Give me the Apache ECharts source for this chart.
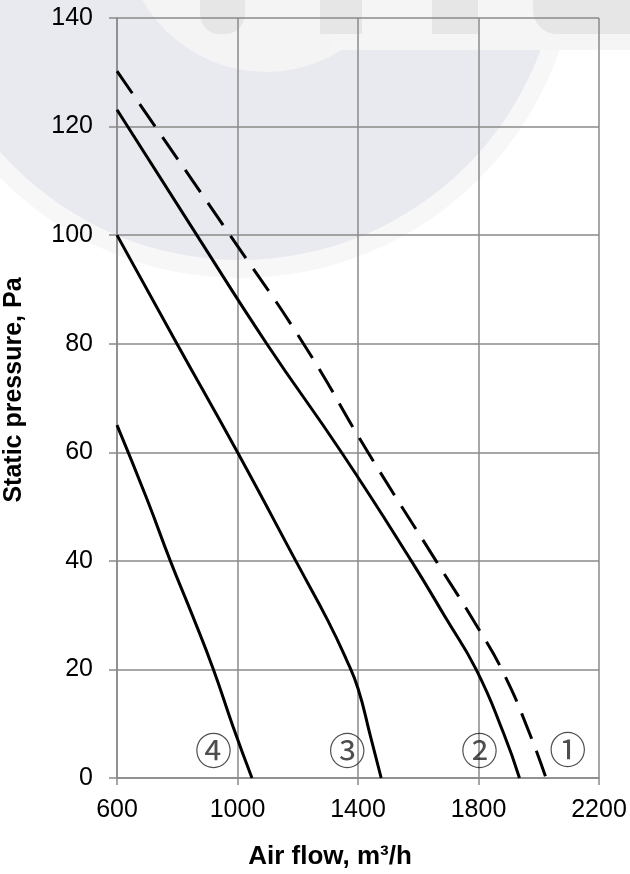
<!DOCTYPE html>
<html>
<head>
<meta charset="utf-8">
<script src="https://cdn.jsdelivr.net/npm/echarts@6/dist/echarts.min.js"></script>
<style>
  html, body { margin: 0; padding: 0; background: #fff; }
  #chart { width: 630px; height: 874px; }
</style>
</head>
<body>
<div id="chart"></div>
<script>
// curve points: [air flow, static pressure]
const curve1 = [[600, 130.2], [727, 120], [975, 100], [1219, 80], [1433, 60], [1659, 40], [1800, 27.5], [1886, 19], [1969, 8.3], [2024, 0]]
const curve2 = [[600, 123.1], [865, 100], [1097, 80], [1345, 60], [1577, 40], [1690, 29.6], [1792, 20], [1883, 8.3], [1936, 0]]
const curve3 = [[600, 100], [799, 80], [1000, 60], [1206, 38.7], [1300, 29], [1360, 22], [1400, 16.5], [1440, 8], [1477, 0]]
const curve4 = [[600, 65], [700, 51.3], [777, 40], [850, 30], [920, 20], [985, 9.5], [1048, 0]]

const curveLabels = ['①', '②', '③', '④']
const labelPos = [[2096, 5.2], [1803, 4.9], [1364, 4.9], [920, 4.9]]

const xTicks = [600, 1000, 1400, 1800, 2200]
const yTicks = [0, 20, 40, 60, 80, 100, 120, 140]

const chart = echarts.init(document.getElementById('chart'))

const lineSeries = (data, dashed) => ({
  type: 'line',
  data: data,
  smooth: 0.5,
  showSymbol: false,
  lineStyle: { color: '#000', width: 3, type: dashed ? [27, 13] : 'solid' },
  z: 5
})

const gridColor = '#8a8a8a'

chart.setOption({
  animation: false,
  textStyle: { fontFamily: 'Liberation Sans, Arial, sans-serif' },
  graphic: [
    // faint logo watermark behind the plot
    { type: 'circle', shape: { cx: 240, cy: -60, r: 338 }, style: { fill: '#f7f7f8' }, z: -12, silent: true },
    { type: 'circle', shape: { cx: 240, cy: -60, r: 320 }, style: { fill: '#e9e9f0' }, z: -11, silent: true },
    { type: 'circle', shape: { cx: 266, cy: -70, r: 142 }, style: { fill: '#f4f4f5' }, z: -10, silent: true },
    { type: 'rect', shape: { x: 330, y: 0, width: 300, height: 50 }, style: { fill: '#f5f5f5' }, z: -10, silent: true },
    { type: 'rect', shape: { x: 200, y: 0, width: 45, height: 34, r: [0, 0, 20, 20] }, style: { fill: '#e6e6e6' }, z: -9, silent: true },
    { type: 'rect', shape: { x: 320, y: 0, width: 42, height: 34 }, style: { fill: '#e6e6e6' }, z: -9, silent: true },
    { type: 'rect', shape: { x: 432, y: 0, width: 46, height: 34 }, style: { fill: '#e6e6e6' }, z: -9, silent: true },
    { type: 'rect', shape: { x: 533, y: 0, width: 97, height: 34, r: [0, 0, 0, 24] }, style: { fill: '#e6e6e6' }, z: -9, silent: true }
  ],
  grid: { left: 117, right: 31, top: 18, bottom: 96, outerBoundsMode: 'none' },
  xAxis: {
    type: 'value',
    min: xTicks[0],
    max: xTicks[xTicks.length - 1],
    interval: 400,
    name: 'Air flow, m³/h',
    nameLocation: 'middle',
    nameGap: 66,
    nameTextStyle: { color: '#000', fontSize: 26, fontWeight: 'bold', padding: [0, 56, 0, 0] },
    axisLine: { show: true, lineStyle: { color: gridColor, width: 1.5 } },
    axisTick: { show: true, length: 7, lineStyle: { color: gridColor, width: 1.5 } },
    axisLabel: { color: '#000', fontSize: 25, margin: 20, formatter: v => String(v) },
    splitLine: { show: true, lineStyle: { color: gridColor, width: 1.5 } }
  },
  yAxis: {
    type: 'value',
    min: yTicks[0],
    max: yTicks[yTicks.length - 1],
    interval: 20,
    name: 'Static pressure, Pa',
    nameLocation: 'middle',
    nameGap: 90,
    nameTextStyle: { color: '#000', fontSize: 25, fontWeight: 'bold', padding: [0, 0, 0, 16] },
    axisLine: { show: true, lineStyle: { color: gridColor, width: 1.5 } },
    axisTick: { show: true, length: 8, lineStyle: { color: gridColor, width: 1.5 } },
    axisLabel: { color: '#000', fontSize: 25, margin: 24, formatter: v => String(v) },
    splitLine: { show: true, lineStyle: { color: gridColor, width: 1.5 } }
  },
  series: [
    lineSeries(curve1, true),
    lineSeries(curve2, false),
    lineSeries(curve3, false),
    lineSeries(curve4, false),
    {
      type: 'scatter',
      symbolSize: 0,
      data: labelPos.map((p, i) => ({ value: p, name: curveLabels[i] })),
      label: {
        show: true,
        position: 'inside',
        formatter: p => p.name,
        color: '#222',
        fontSize: 37,
        fontFamily: 'Noto Sans CJK JP'
      },
      z: 6
    }
  ]
})
</script>
</body>
</html>
